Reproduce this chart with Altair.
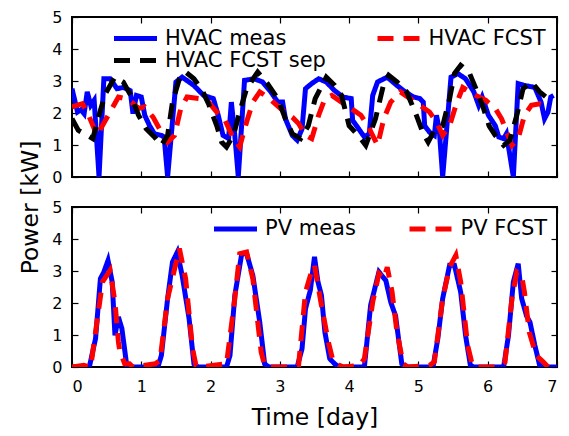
import altair as alt
import pandas as pd

FONT = "DejaVu Sans"

# ---------------- data ----------------
hvac_series = ["HVAC meas", "HVAC FCST sep", "HVAC FCST"]
hvac_colors = ["#0000ff", "#000000", "#ff0000"]

hvac_meas_t = [0.00, 0.08, 0.13, 0.175, 0.22, 0.27, 0.32, 0.39, 0.46, 0.55, 0.65, 0.74, 0.84, 0.88, 0.93,
               1.00, 1.05, 1.12, 1.19, 1.29, 1.33, 1.38, 1.50, 1.59, 1.76, 1.90, 2.04, 2.11, 2.18, 2.26,
               2.30, 2.35, 2.40, 2.49, 2.63, 2.75, 2.87, 2.97, 3.04, 3.08, 3.18, 3.25, 3.32, 3.37, 3.46,
               3.56, 3.67, 3.79, 3.91, 4.03, 4.05, 4.12, 4.22, 4.29, 4.34, 4.41, 4.55, 4.69, 4.81, 4.93,
               5.02, 5.07, 5.09, 5.16, 5.23, 5.26, 5.30, 5.35, 5.47, 5.57, 5.68, 5.80, 5.87, 5.92, 6.01,
               6.11, 6.16, 6.23, 6.27, 6.37, 6.44, 6.53, 6.68, 6.77, 6.82, 6.87, 6.91, 6.95]
hvac_meas_v = [2.76, 2.03, 2.10, 1.98, 2.66, 2.24, 2.40, 0.00, 3.07, 3.07, 2.76, 2.80, 2.70, 1.98, 2.55,
               2.50, 1.93, 1.60, 1.35, 1.30, 1.25, 0.00, 2.97, 3.12, 2.86, 2.55, 2.45, 1.93, 1.30, 1.20,
               2.34, 1.30, 0.00, 3.02, 3.07, 2.97, 2.66, 2.34, 2.34, 1.82, 1.30, 1.15, 1.50, 2.76, 2.92,
               3.07, 2.97, 2.70, 2.50, 2.45, 1.77, 1.56, 1.25, 1.35, 2.55, 2.97, 3.12, 2.86, 2.66, 2.50,
               2.45, 2.34, 1.60, 1.40, 1.30, 1.93, 1.50, 0.00, 3.12, 3.23, 3.07, 2.66, 2.24, 2.50, 1.93,
               1.60, 1.25, 1.20, 1.35, 0.00, 2.92, 2.86, 2.80, 2.34, 1.82, 2.03, 2.50, 2.55]

hvac_fcst_t = [0.00, 0.15, 0.22, 0.36, 0.55, 0.67, 0.77, 0.86, 0.96, 1.05, 1.17, 1.29, 1.38, 1.48, 1.57,
               1.66, 1.85, 1.97, 2.09, 2.21, 2.33, 2.42, 2.52, 2.61, 2.71, 2.85, 3.01, 3.18, 3.27, 3.37,
               3.46, 3.56, 3.65, 3.75, 3.89, 4.03, 4.17, 4.27, 4.41, 4.50, 4.60, 4.74, 4.88, 5.02, 5.16,
               5.26, 5.35, 5.45, 5.54, 5.64, 5.83, 5.97, 6.11, 6.20, 6.35, 6.44, 6.53, 6.63, 6.75, 6.85]
hvac_fcst_v = [2.19, 2.29, 2.03, 1.30, 2.03, 2.50, 2.45, 2.34, 2.14, 2.19, 1.87, 1.40, 1.09, 1.30, 2.14,
               2.50, 2.45, 2.34, 2.03, 1.77, 1.20, 0.94, 1.72, 2.34, 2.66, 2.45, 2.14, 1.87, 1.67, 1.30,
               1.20, 1.93, 2.45, 2.55, 2.34, 2.14, 1.93, 1.60, 0.99, 1.82, 2.34, 2.66, 2.45, 2.24, 2.03,
               1.72, 1.30, 1.60, 2.24, 2.80, 2.55, 2.40, 2.14, 1.82, 0.99, 1.20, 1.93, 2.24, 2.29, 2.25]

hvac_sep_t = [0.00, 0.09, 0.30, 0.39, 0.48, 0.62, 0.74, 0.86, 0.96, 1.07, 1.19, 1.29, 1.38, 1.45, 1.55,
              1.64, 1.76, 1.88, 1.97, 2.09, 2.16, 2.23, 2.33, 2.42, 2.52, 2.68, 2.82, 2.97, 3.08, 3.18,
              3.30, 3.41, 3.51, 3.67, 3.79, 3.89, 4.00, 4.15, 4.24, 4.38, 4.50, 4.57, 4.69, 4.83, 4.97,
              5.07, 5.14, 5.23, 5.35, 5.45, 5.52, 5.61, 5.73, 5.85, 5.94, 6.02, 6.11, 6.23, 6.32, 6.42,
              6.51, 6.63, 6.75, 6.87]
hvac_sep_v = [1.82, 1.46, 1.20, 1.93, 2.60, 3.12, 2.97, 2.50, 1.93, 1.51, 1.25, 0.99, 1.30, 2.34, 3.07,
              3.28, 3.07, 2.70, 2.29, 1.60, 1.09, 0.94, 1.30, 2.03, 2.76, 3.28, 2.92, 2.45, 1.82, 1.35,
              1.20, 1.60, 2.45, 3.12, 2.86, 2.55, 1.60, 1.25, 0.99, 1.82, 2.92, 3.18, 2.97, 2.66, 1.93,
              1.35, 1.09, 1.46, 1.60, 2.45, 3.23, 3.49, 3.28, 2.66, 2.14, 1.60, 1.30, 0.99, 1.15, 1.93,
              2.76, 2.97, 2.66, 2.45]

pv_series = ["PV meas", "PV FCST"]
pv_colors = ["#0000ff", "#ff0000"]

pv_meas_t = [0.00, 0.25, 0.34, 0.41, 0.46, 0.52, 0.58, 0.62, 0.67, 0.72, 0.79, 0.85,
             1.24, 1.29, 1.38, 1.45, 1.52, 1.59, 1.69, 1.76, 1.82,
             2.23, 2.28, 2.35, 2.45, 2.52, 2.61, 2.71, 2.78, 2.84,
             3.25, 3.32, 3.37, 3.44, 3.50, 3.55, 3.60, 3.65, 3.72, 3.79, 3.86,
             4.22, 4.31, 4.43, 4.53, 4.60, 4.67, 4.76, 4.82,
             5.21, 5.28, 5.35, 5.45, 5.52, 5.61, 5.68, 5.75, 5.80,
             6.23, 6.30, 6.37, 6.44, 6.49, 6.56, 6.61, 6.68, 6.75, 6.80, 7.00]
pv_meas_v = [0.00, 0.00, 0.89, 2.76, 2.97, 3.33, 2.66, 0.99, 1.56, 1.20, 0.05, 0.00,
             0.00, 0.36, 2.14, 3.28, 3.59, 2.86, 1.51, 0.10, 0.00,
             0.00, 0.36, 2.24, 3.54, 3.54, 2.86, 1.40, 0.10, 0.00,
             0.00, 0.57, 1.82, 2.40, 3.44, 2.66, 2.24, 1.09, 0.26, 0.10, 0.00,
             0.00, 1.93, 2.97, 2.70, 2.03, 1.60, 0.10, 0.00,
             0.00, 0.89, 2.14, 3.18, 3.18, 2.34, 0.99, 0.05, 0.00,
             0.00, 0.99, 2.66, 3.23, 2.14, 1.60, 1.40, 0.68, 0.05, 0.00, 0.00]

pv_fcst_t = [0.00, 0.17, 0.27, 0.34, 0.44, 0.55, 0.62, 0.67, 0.69, 0.76, 0.83, 0.88,
             1.20, 1.27, 1.38, 1.55, 1.64, 1.74, 1.79, 1.85,
             2.23, 2.35, 2.42, 2.52, 2.61, 2.73, 2.78, 2.85,
             3.08, 3.27, 3.37, 3.44, 3.50, 3.60, 3.70, 3.77, 3.86, 3.92,
             4.15, 4.22, 4.34, 4.43, 4.50, 4.55, 4.62, 4.69, 4.78, 4.85,
             5.16, 5.23, 5.35, 5.45, 5.54, 5.61, 5.71, 5.78, 5.85,
             6.16, 6.25, 6.35, 6.42, 6.49, 6.53, 6.60, 6.70, 6.80, 6.87, 7.00]
pv_fcst_v = [0.00, 0.05, 0.00, 1.09, 2.66, 3.02, 2.03, 0.78, 0.50, 0.10, 0.10, 0.00,
             0.10, 0.20, 2.14, 3.70, 2.76, 0.57, 0.05, 0.00,
             0.10, 2.14, 3.54, 3.59, 2.76, 0.47, 0.05, 0.00,
             0.00, 0.05, 2.34, 2.86, 3.18, 1.93, 0.78, 0.16, 0.05, 0.00,
             0.05, 0.26, 2.03, 2.92, 2.76, 3.12, 2.34, 1.09, 0.10, 0.00,
             0.05, 0.16, 2.14, 3.12, 3.49, 2.66, 0.68, 0.05, 0.00,
             0.00, 0.16, 2.14, 2.97, 2.86, 2.34, 1.09, 0.36, 0.16, 0.00, 0.00]

x_ticks = [0, 1, 2, 3, 4, 5, 6, 7]
y_ticks = [0, 1, 2, 3, 4, 5]


def long_frame(items):
    rows = []
    for name, ts, vs in items:
        for t, v in zip(ts, vs):
            rows.append({"t": t, "v": v, "series": name})
    return pd.DataFrame(rows)


hvac_df = long_frame([("HVAC meas", hvac_meas_t, hvac_meas_v),
                      ("HVAC FCST", hvac_fcst_t, hvac_fcst_v),
                      ("HVAC FCST sep", hvac_sep_t, hvac_sep_v)])
pv_df = long_frame([("PV meas", pv_meas_t, pv_meas_v),
                    ("PV FCST", pv_fcst_t, pv_fcst_v)])
guide_df = pd.DataFrame({"t": [0, 7], "v": [0, 5]})

W, H = 485, 160
SOLID = [1, 0]
DASH = [16, 10]

xs = alt.Scale(domain=[0, 7], nice=False, zero=False)
ys = alt.Scale(domain=[0, 5], nice=False)

tick_common = dict(labels=False, domain=False, grid=False, title=None, ticks=True,
                   tickSize=6, tickWidth=1.2, tickColor="black", minExtent=0)


def panel(df, domain, colors, dashes, lx, ly, colpad, bottom):
    legend = alt.Legend(title=None, orient="none", legendX=lx, legendY=ly, columns=2,
                        columnPadding=colpad, rowPadding=0, symbolSize=43 * 43,
                        symbolStrokeWidth=5, symbolType="stroke", labelFontSize=21,
                        labelFont=FONT, labelColor="black", labelOffset=5.5, clipHeight=21,
                        labelLimit=400, padding=0)
    if bottom:
        x_axis = alt.Axis(values=x_ticks, format="d", ticks=False, domain=False, grid=False,
                          labelFontSize=16, labelPadding=11, title="Time [day]",
                          titleFontSize=23.5, titlePadding=11.5, titleFontWeight="normal")
        y_axis = alt.Axis(values=y_ticks, format="d", ticks=False, domain=False, grid=False,
                          labelFontSize=16, labelPadding=10, title="Power [kW]", minExtent=0,
                          titleFontSize=23.5, titleFontWeight="normal", titleX=-35, titleY=0,
                          titleAngle=270, titleAlign="center", titleBaseline="alphabetic")
    else:
        x_axis = alt.Axis(values=x_ticks, labels=False, ticks=False, domain=False, grid=False,
                          title=None)
        y_axis = alt.Axis(values=y_ticks, format="d", ticks=False, domain=False, grid=False,
                          labelFontSize=16, labelPadding=10, title=None, minExtent=0)
    lines = alt.Chart(df).mark_line(strokeWidth=5, clip=True).encode(
        x=alt.X("t:Q", scale=xs, axis=x_axis),
        y=alt.Y("v:Q", scale=ys, axis=y_axis),
        color=alt.Color("series:N", scale=alt.Scale(domain=domain, range=colors), legend=legend),
        strokeDash=alt.StrokeDash("series:N", scale=alt.Scale(domain=domain, range=dashes),
                                  legend=legend),
    )
    ticks_a = alt.Chart(guide_df).mark_point(opacity=0).encode(
        x=alt.X("t:Q", scale=xs, axis=alt.Axis(orient="top", offset=-H, values=x_ticks, **tick_common)),
        y=alt.Y("v:Q", scale=ys, axis=alt.Axis(orient="right", offset=-W, values=y_ticks, **tick_common)),
    )
    ticks_b = alt.Chart(guide_df).mark_point(opacity=0).encode(
        x=alt.X("t:Q", scale=xs, axis=alt.Axis(orient="bottom", offset=-H, values=x_ticks, **tick_common)),
        y=alt.Y("v:Q", scale=ys, axis=alt.Axis(orient="left", offset=-W, values=y_ticks, **tick_common)),
    )
    return alt.layer(lines, ticks_a, ticks_b).resolve_axis(
        x="independent", y="independent").properties(width=W, height=H)


top = panel(hvac_df, hvac_series, hvac_colors, [SOLID, DASH, DASH], 39.5, 11, 48.5, False)
bottom = panel(pv_df, pv_series, pv_colors, [SOLID, DASH], 139.5, 11.5, 50.5, True)

chart = alt.vconcat(top, bottom, spacing=30, bounds="flush").resolve_scale(
    color="independent", strokeDash="independent"
).resolve_legend(
    color="independent", strokeDash="independent"
).properties(
    padding={"left": 8, "top": 0, "right": 0, "bottom": 0}
).configure(
    font=FONT
).configure_view(
    stroke="black", strokeWidth=2
).configure_axis(
    labelColor="black", titleColor="black", labelFont=FONT, titleFont=FONT
)

chart.save("out.html", embed_options={"renderer": "svg", "actions": False})
